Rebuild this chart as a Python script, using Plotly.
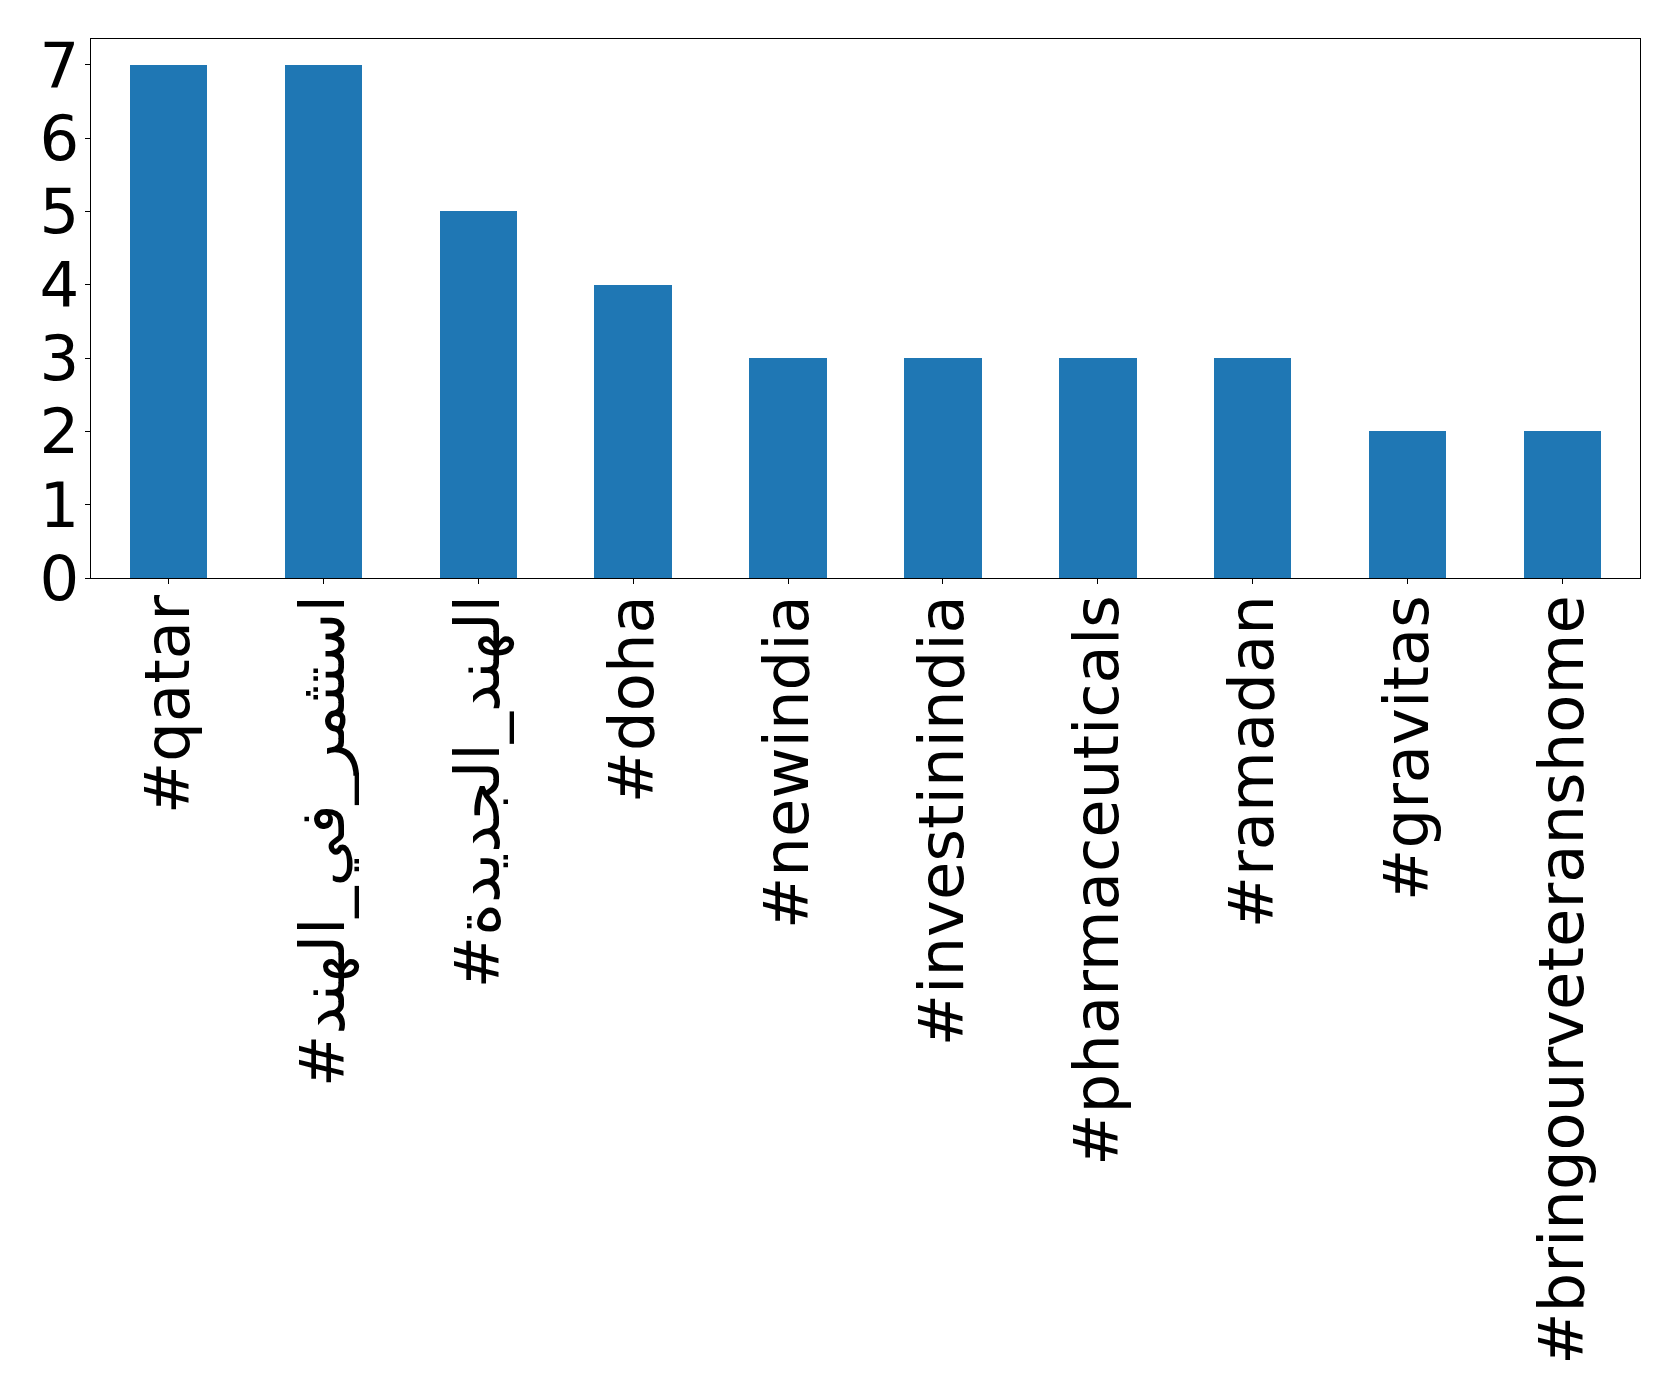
import plotly.graph_objects as go

categories = ["#qatar", "#استثمر_في_الهند", "#الهند_الجديدة", "#doha", "#newindia",
              "#investinindia", "#pharmaceuticals", "#ramadan", "#gravitas",
              "#bringourveteranshome"]
counts = [7, 7, 5, 4, 3, 3, 3, 3, 2, 2]
y_ticks = [0, 1, 2, 3, 4, 5, 6, 7]

fig = go.Figure(go.Bar(
    x=list(range(len(categories))), y=counts, width=0.5,
    marker=dict(color="#1f77b4", line=dict(width=0)),
))

font = dict(family="DejaVu Sans", size=62.5, color="black")
fig.update_layout(
    width=1679, height=1397,
    margin=dict(l=83, r=47, t=31, b=827, autoexpand=False),
    plot_bgcolor="white", paper_bgcolor="white",
    showlegend=False, bargap=0,
)
fig.update_xaxes(
    range=[-0.5, len(categories) - 0.5],
    tickmode="array", tickvals=list(range(len(categories))), ticktext=categories,
    tickangle=-90, tickfont=font, ticklabelstandoff=-14,
    showline=True, mirror=True, linecolor="black", linewidth=1.3,
    ticks="outside", ticklen=5, tickwidth=1.3, tickcolor="black",
    showgrid=False, zeroline=False, automargin=False,
)
fig.update_yaxes(
    range=[0, 7.35], tickmode="array", tickvals=y_ticks,
    ticktext=[str(v) for v in y_ticks], tickfont=font, ticklabelstandoff=-7,
    showline=True, mirror=True, linecolor="black", linewidth=1.3,
    ticks="outside", ticklen=5, tickwidth=1.3, tickcolor="black",
    showgrid=False, zeroline=False, automargin=False,
)
fig.write_html("out.html")
